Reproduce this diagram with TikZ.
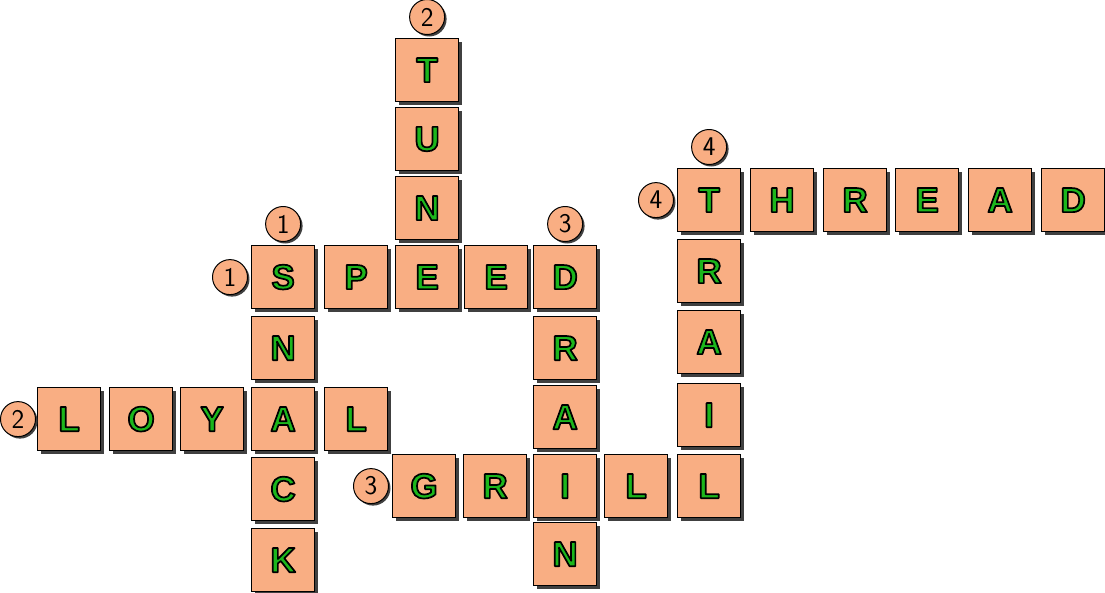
\documentclass[tikz,border=0pt]{standalone}
\usepackage{fontspec}
\usetikzlibrary{shadows}
\usetikzlibrary{positioning}
\definecolor{tileorange}{RGB}{249,174,131}
\definecolor{tilegreen}{RGB}{28,182,28}
\definecolor{tileshadow}{RGB}{64,64,64}
\newfontfamily\tilefont{Liberation Sans Bold}
\newcommand{\ltr}[1]% letter, green with black outline
{\color{tilegreen}\special{pdf:literal direct 0 0 0 RG 1.7 w 1 j 2 Tr}#1\special{pdf:literal direct 0 Tr}}
\tikzset{
  tile/.style={draw, line width=1.2pt, fill=tileorange, anchor=north west,
    minimum size=63pt, inner sep=0pt,
    drop shadow={shadow xshift=3pt, shadow yshift=-3pt, fill=tileshadow, opacity=1},
    font=\tilefont\fontsize{35pt}{35pt}\selectfont},
  clue/.style={circle, draw, line width=1pt, fill=tileorange,
    minimum size=35pt, inner sep=0pt,
    drop shadow={shadow xshift=2pt, shadow yshift=-2pt, fill=tileshadow, opacity=1},
    font=\sffamily\fontsize{27pt}{27pt}\selectfont}
}

\begin{document}
\begin{tikzpicture}[x=1pt, y=-1pt]
	\useasboundingbox (0,0) rectangle (1105,592);
	% SPEED
	\node[tile] (sp1) at (251,245){\ltr{S}};
	\node[tile] (sp2) at (324,245){\ltr{P}};
	\node[tile] (sp3) at (395,245){\ltr{E}};
	\node[tile] (sp4) at (464,245){\ltr{E}};
	\node[tile] (sp5) at (533,245){\ltr{D}};
	% SNACK
	\node[tile] (sn2) at (251,316){\ltr{N}};
	\node[tile] (sn3) at (251,387){\ltr{A}};
	\node[tile] (sn4) at (251,457){\ltr{C}};
	\node[tile] (sn5) at (251,528){\ltr{K}};
	% TUNED
	\node[tile] (tu1) at (395,38){\ltr{T}};
	\node[tile] (tu2) at (395,107){\ltr{U}};
	\node[tile] (tu3) at (395,176){\ltr{N}};
	% DRAIN
	\node[tile] (dr2) at (533,316){\ltr{R}};
	\node[tile] (dr3) at (533,385){\ltr{A}};
	\node[tile] (dr4) at (533,454){\ltr{I}};
	\node[tile] (dr5) at (533,522){\ltr{N}};
	% LOYAL
	\node[tile] (lo1) at (37,387){\ltr{L}};
	\node[tile] (lo2) at (109,387){\ltr{O}};
	\node[tile] (lo3) at (180,387){\ltr{Y}};
	\node[tile] (lo5) at (324,387){\ltr{L}};
	% GRILL
	\node[tile] (gr1) at (392,454){\ltr{G}};
	\node[tile] (gr2) at (463,454){\ltr{R}};
	\node[tile] (gr4) at (604,454){\ltr{L}};
	\node[tile] (gr5) at (677,454){\ltr{L}};
	% TRAIL
	\node[tile] (tr1) at (677,168){\ltr{T}};
	\node[tile] (tr2) at (677,239){\ltr{R}};
	\node[tile] (tr3) at (677,310){\ltr{A}};
	\node[tile] (tr4) at (677,383){\ltr{I}};
	% THREAD
	\node[tile] (th2) at (750,168){\ltr{H}};
	\node[tile] (th3) at (823,168){\ltr{R}};
	\node[tile] (th4) at (895,168){\ltr{E}};
	\node[tile] (th5) at (968,168){\ltr{A}};
	\node[tile] (th6) at (1041,168){\ltr{D}};
	% clue numbers
	\node[clue, left=3pt of sp1] (n1a){1};
	\node[clue, above=3pt of sp1] (n1d){1};
	\node[clue, left=1pt of lo1] (n2a){2};
	\node[clue, above=3pt of tu1] (n2d){2};
	\node[clue, left=3pt of gr1] (n3a){3};
	\node[clue, above=3pt of sp5] (n3d){3};
	\node[clue, left=3pt of tr1] (n4a){4};
	\node[clue, above=3pt of tr1] (n4d){4};
\end{tikzpicture}
\end{document}
